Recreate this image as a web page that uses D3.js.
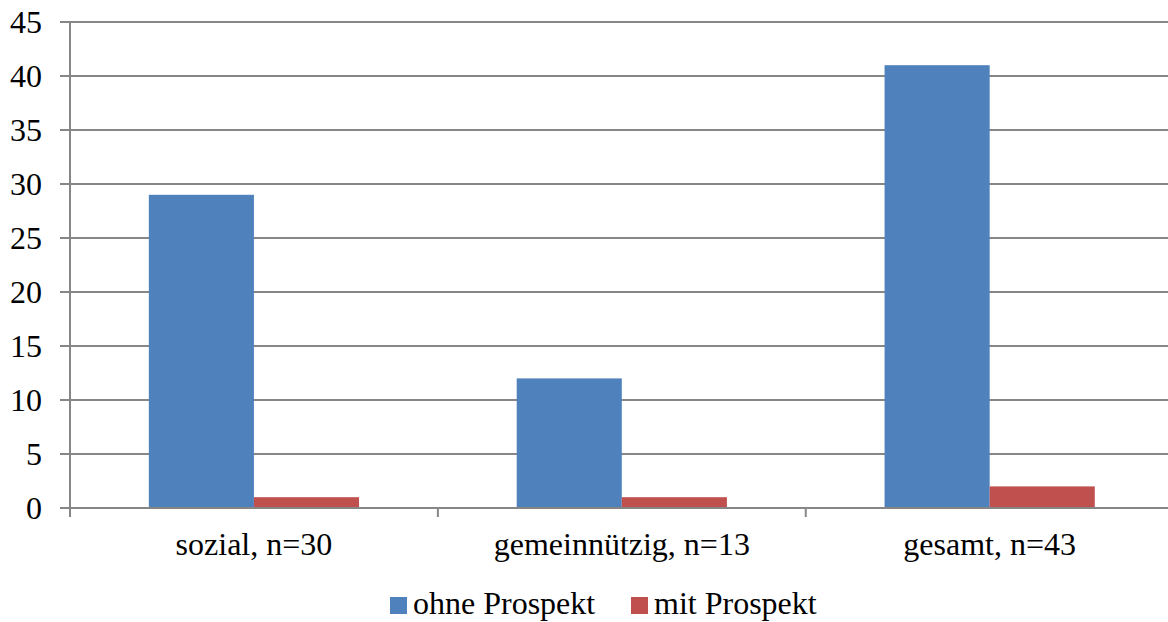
<!DOCTYPE html>
<html>
<head>
<meta charset="utf-8">
<script src="https://cdn.jsdelivr.net/npm/d3@7"></script>
<style>
  html, body { margin: 0; padding: 0; background: #fff; }
  svg { display: block; }
  svg text { font-family: 'Liberation Serif', Tinos, 'Times New Roman', Times, 'DejaVu Serif', serif; }
</style>
</head>
<body>
<svg id="chart" width="1168" height="622"></svg>
<script>
// Categories and series
const categories = ["sozial, n=30", "gemeinnützig, n=13", "gesamt, n=43"];
const seriesNames = ["ohne Prospekt", "mit Prospekt"];
const ohneProspekt = [29, 12, 41];
const mitProspekt = [1, 1, 2];
const yTicks = [0, 5, 10, 15, 20, 25, 30, 35, 40, 45];
const colors = ["#4F81BD", "#C0504D"];

const svg = d3.select("#chart");
const plotLeft = 70, plotRight = 1173.6, plotTop = 22, plotBottom = 508;
const serif = "'Liberation Serif', Tinos, 'Times New Roman', Times, 'DejaVu Serif', serif";
const fontSize = 32;

const x = d3.scaleBand().domain(categories).range([plotLeft, plotRight]).paddingInner(0).paddingOuter(0);
const inner = d3.scaleBand().domain(seriesNames).range([0, x.bandwidth()]).paddingInner(0).paddingOuter(0.75);
const y = d3.scaleLinear().domain([0, 45]).range([plotBottom, plotTop]);

const gridColor = "#868686";

// Horizontal gridlines with short tick stubs on the left
svg.append("g").selectAll("line").data(yTicks).join("line")
  .attr("x1", plotLeft - 10).attr("x2", plotRight)
  .attr("y1", d => y(d)).attr("y2", d => y(d))
  .attr("stroke", gridColor).attr("stroke-width", 2);

// Y axis labels
svg.append("g").selectAll("text").data(yTicks).join("text")
  .attr("x", 42).attr("y", d => y(d))
  .attr("dy", "0.35em")
  .attr("text-anchor", "end")
  .attr("font-family", serif)
  .attr("font-size", fontSize).attr("fill", "#000")
  .text(d => d);

// Bars
const rows = categories.map((c, i) => ({ cat: c, values: [ohneProspekt[i], mitProspekt[i]] }));
const groups = svg.append("g").selectAll("g").data(rows).join("g")
  .attr("transform", d => `translate(${x(d.cat)},0)`);
groups.selectAll("rect").data(d => d.values.map((v, j) => ({ name: seriesNames[j], v, j })))
  .join("rect")
  .attr("x", d => inner(d.name))
  .attr("width", inner.bandwidth())
  .attr("y", d => y(d.v))
  .attr("height", d => y(0) - y(d.v))
  .attr("fill", d => colors[d.j]);

// Y axis line
svg.append("line").attr("x1", plotLeft).attr("x2", plotLeft).attr("y1", plotTop).attr("y2", plotBottom + 9)
  .attr("stroke", gridColor).attr("stroke-width", 2);
// X axis baseline
svg.append("line").attr("x1", plotLeft - 10).attr("x2", plotRight).attr("y1", plotBottom).attr("y2", plotBottom)
  .attr("stroke", gridColor).attr("stroke-width", 2);
// Category boundary ticks
svg.append("g").selectAll("line").data(categories.slice(1)).join("line")
  .attr("x1", d => x(d)).attr("x2", d => x(d))
  .attr("y1", plotBottom).attr("y2", plotBottom + 9)
  .attr("stroke", gridColor).attr("stroke-width", 2);

// Category labels
svg.append("g").selectAll("text").data(categories).join("text")
  .attr("x", d => x(d) + x.bandwidth() / 2)
  .attr("y", 555)
  .attr("text-anchor", "middle")
  .attr("font-family", serif)
  .attr("font-size", fontSize).attr("fill", "#000")
  .text(d => d);

// Legend
const legend = svg.append("g");
const legendX = [390, 631];
seriesNames.forEach((name, i) => {
  legend.append("rect").attr("x", legendX[i]).attr("y", 597).attr("width", 17).attr("height", 17).attr("fill", colors[i]);
  legend.append("text").attr("x", legendX[i] + 23).attr("y", 614)
    .attr("font-family", serif)
    .attr("font-size", fontSize).attr("fill", "#000").text(name);
});
</script>
</body>
</html>
